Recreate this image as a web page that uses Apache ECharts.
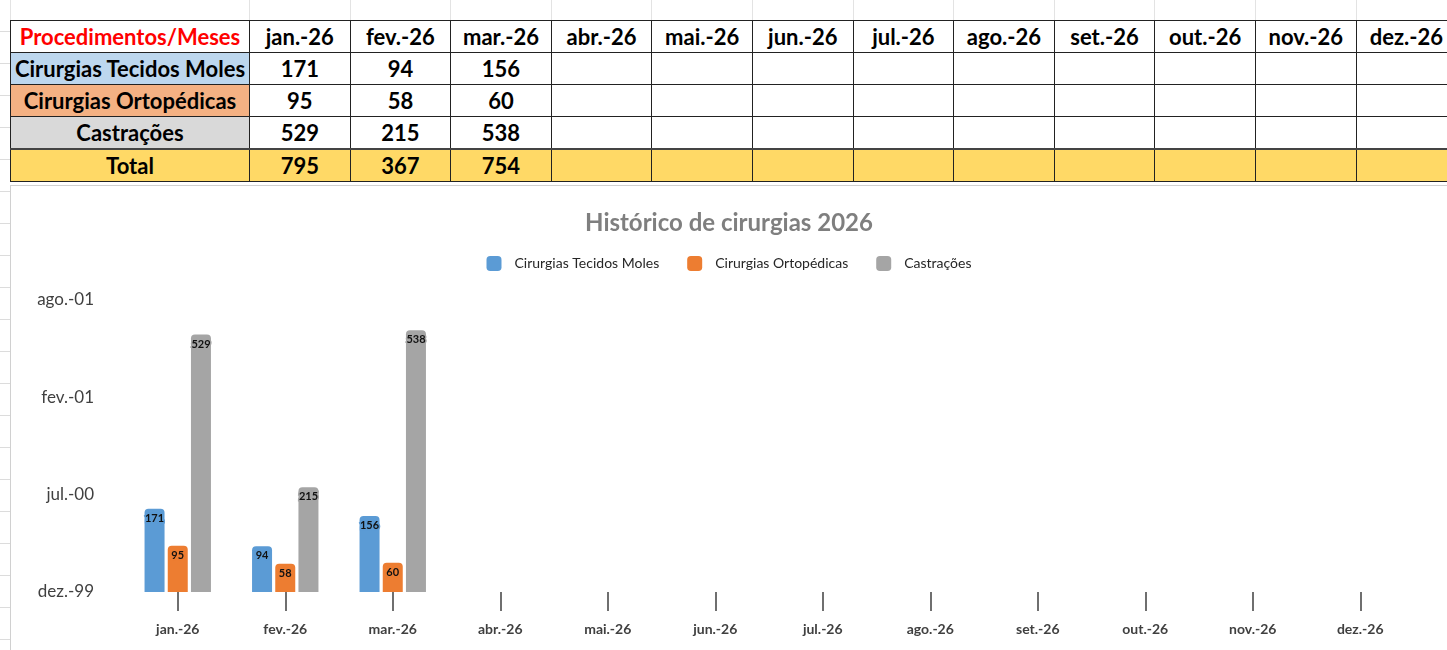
<!DOCTYPE html>
<html>
<head>
<meta charset="utf-8">
<script src="https://cdn.jsdelivr.net/npm/echarts@6/dist/echarts.min.js"></script>
<style>
  html, body { margin: 0; padding: 0; background: #fff; }
  #page { position: relative; width: 1447px; height: 650px; overflow: hidden; background: #fff; font-family: Lato, "Noto Sans", sans-serif; }
  #leftStrip { position: absolute; left: 0; top: 0; width: 10px; height: 650px;
    background: repeating-linear-gradient(to bottom, transparent 0, transparent 31px, #dcdcdc 31px, #dcdcdc 32px); }
  table { border-collapse: collapse; table-layout: fixed; position: absolute; left: 10px; }
  #spacer { top: 0; }
  #spacer td { height: 20px; border-left: 1px solid #e3e3e3; border-right: 1px solid #e3e3e3; padding: 0; }
  #tbl { top: 20px; }
  #tbl td { height: 31px; border: 1px solid #222; padding: 0; text-align: center; font-weight: 700; font-size: 22px; color: #000; white-space: nowrap; overflow: hidden; }
  #tbl tr.total td { background: #ffd966; border-top: 2px solid #444; }
  #tbl td.head { color: #ff0000; }
  #chart { position: absolute; left: 10px; top: 185px; width: 1437px; height: 465px; border-top: 1px solid #d0d0d0; border-left: 1px solid #d0d0d0; box-sizing: border-box; }
</style>
</head>
<body>
<div id="page">
  <div id="leftStrip"></div>
  <table id="spacer"><colgroup id="cg1"></colgroup><tr id="spacerRow"></tr></table>
  <table id="tbl"><colgroup id="cg2"></colgroup><tbody id="tbody"></tbody></table>
  <div id="chart"></div>
</div>
<script>
const months = ['jan.-26', 'fev.-26', 'mar.-26', 'abr.-26', 'mai.-26', 'jun.-26', 'jul.-26', 'ago.-26', 'set.-26', 'out.-26', 'nov.-26', 'dez.-26'];
const seriesNames = ['Cirurgias Tecidos Moles', 'Cirurgias Ortopédicas', 'Castrações'];
const tecidosMoles = [171, 94, 156, null, null, null, null, null, null, null, null, null];
const ortopedicas = [95, 58, 60, null, null, null, null, null, null, null, null, null];
const castracoes = [529, 215, 538, null, null, null, null, null, null, null, null, null];
const totais = [795, 367, 754, null, null, null, null, null, null, null, null, null];
const yTicks = [0, 200, 400, 600];
const yTickLabels = ['dez.-99', 'jul.-00', 'fev.-01', 'ago.-01'];

const colors = ['#5b9bd5', '#ed7d31', '#a5a5a5'];
const rowBg = ['#bdd7ee', '#f4b183', '#d9d9d9'];

// table
const colWidths = [239].concat(months.map(() => 100.6));
['cg1', 'cg2'].forEach(id => {
    const cg = document.getElementById(id);
    colWidths.forEach(w => {
        const c = document.createElement('col');
        c.style.width = w + 'px';
        cg.appendChild(c);
    });
});
const totalW = colWidths.reduce((a, b) => a + b, 0);
document.getElementById('spacer').style.width = totalW + 'px';
document.getElementById('tbl').style.width = totalW + 'px';
const spacerRow = document.getElementById('spacerRow');
colWidths.forEach(() => spacerRow.appendChild(document.createElement('td')));

const tbody = document.getElementById('tbody');
function addRow(label, values, cls, bg) {
    const tr = document.createElement('tr');
    if (cls) tr.className = cls;
    const th = document.createElement('td');
    th.textContent = label;
    if (cls === 'headrow') th.className = 'head';
    if (bg) th.style.background = bg;
    tr.appendChild(th);
    values.forEach(v => {
        const td = document.createElement('td');
        td.textContent = v == null ? '' : v;
        tr.appendChild(td);
    });
    tbody.appendChild(tr);
}
addRow('Procedimentos/Meses', months, 'headrow');
[tecidosMoles, ortopedicas, castracoes].forEach((vals, i) => addRow(seriesNames[i], vals, '', rowBg[i]));
addRow('Total', totais, 'total');

// chart
const chart = echarts.init(document.getElementById('chart'));
const fontFamily = 'Lato, "Noto Sans", sans-serif';

function makeSeries(name, data, i) {
    return {
        name: name,
        type: 'bar',
        data: data,
        barWidth: 20,
        barGap: '16%',
        itemStyle: { color: colors[i], borderRadius: [4, 4, 0, 0] },
        label: {
            show: true,
            position: 'insideTop',
            distance: 4,
            fontSize: 11,
            fontWeight: 'bold',
            fontFamily: fontFamily,
            color: '#111',
            textBorderColor: colors[i],
            textBorderWidth: 3
        }
    };
}

chart.setOption({
    animation: false,
    title: {
        text: 'Histórico de cirurgias 2026',
        left: 'center',
        top: 20,
        textStyle: { fontFamily: fontFamily, fontSize: 24, fontWeight: 'bold', color: '#7f7f7f' }
    },
    legend: {
        data: seriesNames,
        top: 65,
        left: 'center',
        itemWidth: 15,
        itemHeight: 15,
        itemGap: 28,
        icon: 'roundRect',
        textStyle: { fontFamily: fontFamily, fontSize: 14, color: '#262626', padding: [0, 0, 0, 8] }
    },
    grid: { left: 113, right: 33, top: 114, bottom: 58, containLabel: false },
    xAxis: {
        type: 'category',
        data: months,
        axisLine: { show: false },
        axisTick: { show: true, alignWithLabel: true, length: 19, lineStyle: { color: '#404040', width: 1.5 } },
        axisLabel: { interval: 0, margin: 30, fontFamily: fontFamily, fontSize: 14, fontWeight: 'bold', color: '#404040' }
    },
    yAxis: {
        type: 'value',
        min: yTicks[0],
        max: yTicks[yTicks.length - 1],
        interval: 200,
        splitLine: { show: false },
        axisLine: { show: false },
        axisTick: { show: false },
        axisLabel: {
            margin: 30,
            fontFamily: fontFamily,
            fontSize: 17,
            color: '#404040',
            formatter: v => yTickLabels[yTicks.indexOf(v)] || ''
        }
    },
    series: [
        makeSeries(seriesNames[0], tecidosMoles, 0),
        makeSeries(seriesNames[1], ortopedicas, 1),
        makeSeries(seriesNames[2], castracoes, 2)
    ]
});
</script>
</body>
</html>
